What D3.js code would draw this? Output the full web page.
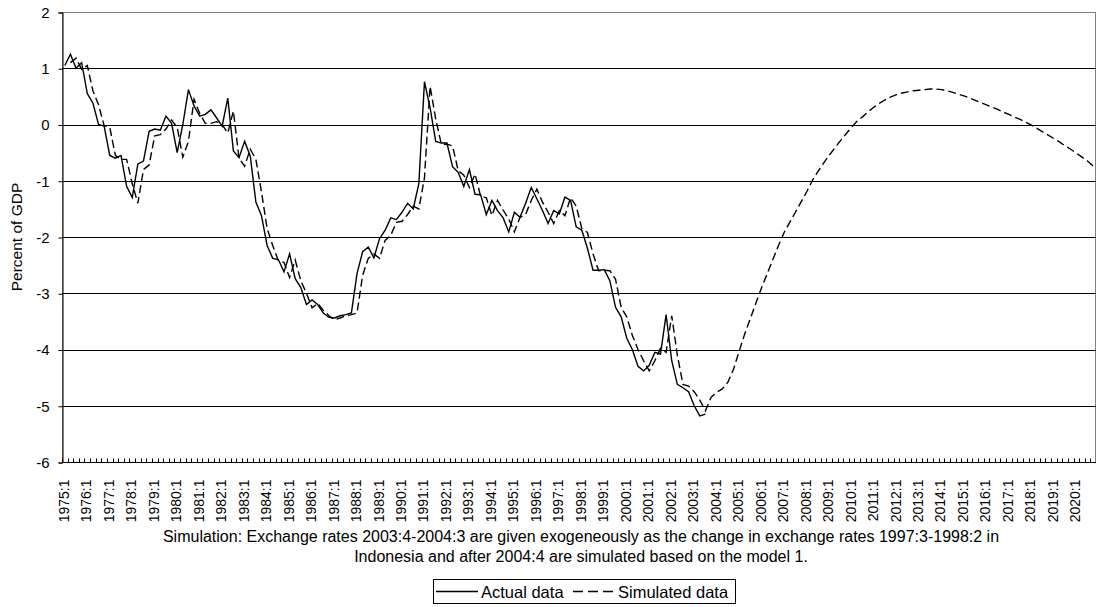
<!DOCTYPE html>
<html>
<head>
<meta charset="utf-8">
<script src="https://cdn.jsdelivr.net/npm/d3@7"></script>
<style>
  body { margin: 0; background: #fff; }
  svg text { font-family: "Liberation Sans", Arial, sans-serif; fill: #000; }
</style>
</head>
<body>
<svg id="chart" width="1098" height="607"></svg>
<script>
// quarters shown on the category axis
const firstYear = 1975;
const lastYear = 2020;
const quarters = [];
for (let yr = firstYear; yr <= lastYear; yr++) {
    for (let q = 1; q <= 4; q++) quarters.push(yr + ':' + q);
}

// Actual data, 1975:1 - 2003:3 (percent of GDP)
const actualData = [
    1.05, 1.25, 1.0, 1.1, 0.55, 0.38, 0.0, -0.03, -0.55, -0.6,
    -0.55, -1.1, -1.3, -0.7, -0.65, -0.12, -0.08, -0.1, 0.15, 0.02,
    -0.5, 0.0, 0.62, 0.33, 0.15, 0.18, 0.26, 0.12, -0.03, 0.47,
    -0.47, -0.59, -0.3, -0.56, -1.38, -1.62, -2.15, -2.38, -2.4, -2.62,
    -2.3, -2.74, -2.9, -3.2, -3.12, -3.2, -3.35, -3.43, -3.44, -3.4,
    -3.38, -3.35, -2.65, -2.26, -2.18, -2.37, -2.03, -1.88, -1.66, -1.69,
    -1.56, -1.4, -1.5, -1.05, 0.76, 0.3, -0.3, -0.33, -0.33, -0.75,
    -0.85, -1.1, -0.8, -1.24, -1.25, -1.6, -1.35, -1.53, -1.66, -1.91,
    -1.56, -1.65, -1.4, -1.12, -1.32, -1.53, -1.76, -1.53, -1.59, -1.29,
    -1.35, -1.82, -1.88, -2.2, -2.59, -2.59, -2.58, -2.78, -3.25, -3.42,
    -3.8, -4.0, -4.3, -4.38, -4.28, -4.05, -4.08, -3.38, -4.2, -4.62,
    -4.68, -4.75, -5.0, -5.18, -5.15
];

// Simulated data, 1975:2 - 2020:4
const simStart = 1;
const simulatedData = [
    1.1, 1.18, 0.98, 1.05, 0.6, 0.35, -0.02, -0.05, -0.55, -0.62,
    -0.62, -1.05, -1.4, -0.8, -0.72, -0.2, -0.18, -0.08, 0.08, -0.05,
    -0.58, -0.3, 0.45, 0.2, 0.02, 0.02, 0.05, 0.0, -0.15, 0.24,
    -0.6, -0.74, -0.44, -0.62, -1.2, -1.85, -2.15, -2.42, -2.45, -2.72,
    -2.41, -2.78, -3.0, -3.26, -3.18, -3.3, -3.4, -3.47, -3.44, -3.4,
    -3.38, -3.35, -2.68, -2.38, -2.3, -2.38, -2.06, -1.97, -1.74, -1.72,
    -1.6, -1.45, -1.5, -0.95, 0.68, 0.1, -0.35, -0.35, -0.38, -0.82,
    -0.9, -1.12, -0.88, -1.28, -1.3, -1.62, -1.35, -1.52, -1.68, -1.91,
    -1.65, -1.6, -1.35, -1.15, -1.38, -1.56, -1.76, -1.53, -1.62, -1.3,
    -1.45, -1.85, -1.92, -2.3, -2.6, -2.59, -2.6, -2.75, -3.25, -3.42,
    -3.75, -4.0, -4.2, -4.38, -4.2, -3.98, -4.05, -3.4, -4.1, -4.62,
    -4.65, -4.75, -4.9, -5.09, -4.85, -4.76, -4.7, -4.58, -4.35, -4.03,
    -3.72, -3.45, -3.17, -2.9, -2.65, -2.4, -2.15, -1.92, -1.74, -1.56,
    -1.38, -1.2, -1.0, -0.84, -0.69, -0.55, -0.42, -0.29, -0.17, -0.05,
    0.06, 0.14, 0.23, 0.31, 0.38, 0.44, 0.49, 0.53, 0.56, 0.58,
    0.6, 0.61, 0.62, 0.63, 0.63, 0.62, 0.6, 0.57, 0.54, 0.51,
    0.47, 0.43, 0.39, 0.35, 0.31, 0.27, 0.22, 0.18, 0.13, 0.09,
    0.04, -0.01, -0.07, -0.13, -0.19, -0.25, -0.31, -0.38, -0.44, -0.51,
    -0.58, -0.65, -0.74
];

const yTicks = [-6, -5, -4, -3, -2, -1, 0, 1, 2];
const yTitle = 'Percent of GDP';
const captionLines = [
    'Simulation: Exchange rates 2003:4-2004:3 are given exogeneously as the change in exchange rates 1997:3-1998:2 in',
    'Indonesia and after 2004:4 are simulated based on the model 1.'
];
const seriesNames = ['Actual data', 'Simulated data'];

const plot = {left: 62, top: 12, right: 1096, bottom: 462};
const midX = (plot.left + plot.right) / 2;

let svg = d3.select('#chart');

let xScale = d3.scaleBand()
    .domain(quarters)
    .range([plot.left, plot.right])
    .padding(0);

let yScale = d3.scaleLinear()
    .domain([-6, 2])
    .range([plot.bottom, plot.top]);

let bw = xScale.bandwidth();

// plot area border
svg.append('rect')
    .attr('x', plot.left + 0.5)
    .attr('y', plot.top + 0.5)
    .attr('width', plot.right - plot.left - 1)
    .attr('height', plot.bottom - plot.top)
    .style('fill', 'none')
    .style('stroke', '#808080');

// gridlines
svg.append('g')
    .selectAll('line')
    .data(yTicks.filter(d => d > -6 && d < 2))
    .enter().append('line')
    .attr('x1', plot.left)
    .attr('x2', plot.right)
    .attr('y1', d => Math.round(yScale(d)) + 0.5)
    .attr('y2', d => Math.round(yScale(d)) + 0.5)
    .style('stroke', '#000')
    .style('stroke-width', 1);

// y axis
let yAxis = d3.axisLeft(yScale)
    .tickValues(yTicks)
    .tickSize(4)
    .tickPadding(9)
    .tickFormat(d3.format('d'));

let yG = svg.append('g')
    .attr('transform', 'translate(' + (plot.left + 0.5) + ',0.5)')
    .call(yAxis);
yG.select('.domain').style('stroke', '#000');
yG.selectAll('text').style('font-size', '15px').text(d => d < 0 ? '-' + Math.abs(d) : d);

// x axis: small tick marks between categories, pointing inward
let xG = svg.append('g')
    .attr('transform', 'translate(0,' + (plot.bottom + 0.5) + ')');

xG.append('line')
    .attr('x1', plot.left)
    .attr('x2', plot.right)
    .style('stroke', '#000');

xG.selectAll('line.qtick')
    .data(quarters)
    .enter().append('line')
    .attr('class', 'qtick')
    .attr('x1', d => Math.round(xScale(d)) + 0.5)
    .attr('x2', d => Math.round(xScale(d)) + 0.5)
    .attr('y1', 0)
    .attr('y2', -4)
    .style('stroke', '#000');

xG.selectAll('text.qlabel')
    .data(quarters.filter(d => d.endsWith(':1')))
    .enter().append('text')
    .attr('class', 'qlabel')
    .attr('transform', d => 'translate(' + (xScale(d) + bw / 2 + 4) + ',' + 17 + ') rotate(-90)')
    .style('text-anchor', 'end')
    .style('font-size', '14px')
    .text(d => d);

// y axis title
svg.append('text')
    .attr('transform', 'translate(22,' + ((plot.top + plot.bottom) / 2) + ') rotate(-90)')
    .style('text-anchor', 'middle')
    .style('font-size', '15.5px')
    .text(yTitle);

// lines
let line = d3.line()
    .x(d => xScale(quarters[d.i]) + bw / 2)
    .y(d => yScale(d.v));

let actualPts = actualData.map((v, i) => ({i: i, v: v}));
let simPts = simulatedData.map((v, i) => ({i: i + simStart, v: v}));

svg.append('path')
    .datum(simPts)
    .attr('d', line)
    .style('fill', 'none')
    .style('stroke', '#000')
    .style('stroke-width', 1.4)
    .style('stroke-dasharray', '8,4');

svg.append('path')
    .datum(actualPts)
    .attr('d', line)
    .style('fill', 'none')
    .style('stroke', '#000')
    .style('stroke-width', 1.4);

// caption, centred under the plot area
svg.selectAll('text.caption')
    .data(captionLines)
    .enter().append('text')
    .attr('class', 'caption')
    .attr('x', midX + 2)
    .attr('y', (d, i) => 542 + i * 20)
    .style('text-anchor', 'middle')
    .style('font-size', '16px')
    .text(d => d);

// legend
let legend = svg.append('g').attr('transform', 'translate(433,579)');
legend.append('rect')
    .attr('x', 0.5).attr('y', 0.5)
    .attr('width', 302).attr('height', 24)
    .style('fill', '#fff')
    .style('stroke', '#000');

let legendItems = [
    {name: seriesNames[0], x: 3, dash: null},
    {name: seriesNames[1], x: 140, dash: '10,5'}
];

legendItems.forEach(item => {
    legend.append('line')
        .attr('x1', item.x).attr('x2', item.x + 42)
        .attr('y1', 12.5).attr('y2', 12.5)
        .style('stroke', '#000')
        .style('stroke-width', 1.4)
        .style('stroke-dasharray', item.dash);
    legend.append('text')
        .attr('x', item.x + 45)
        .attr('y', 18.5)
        .style('font-size', '16.5px')
        .text(item.name);
});
</script>
</body>
</html>
